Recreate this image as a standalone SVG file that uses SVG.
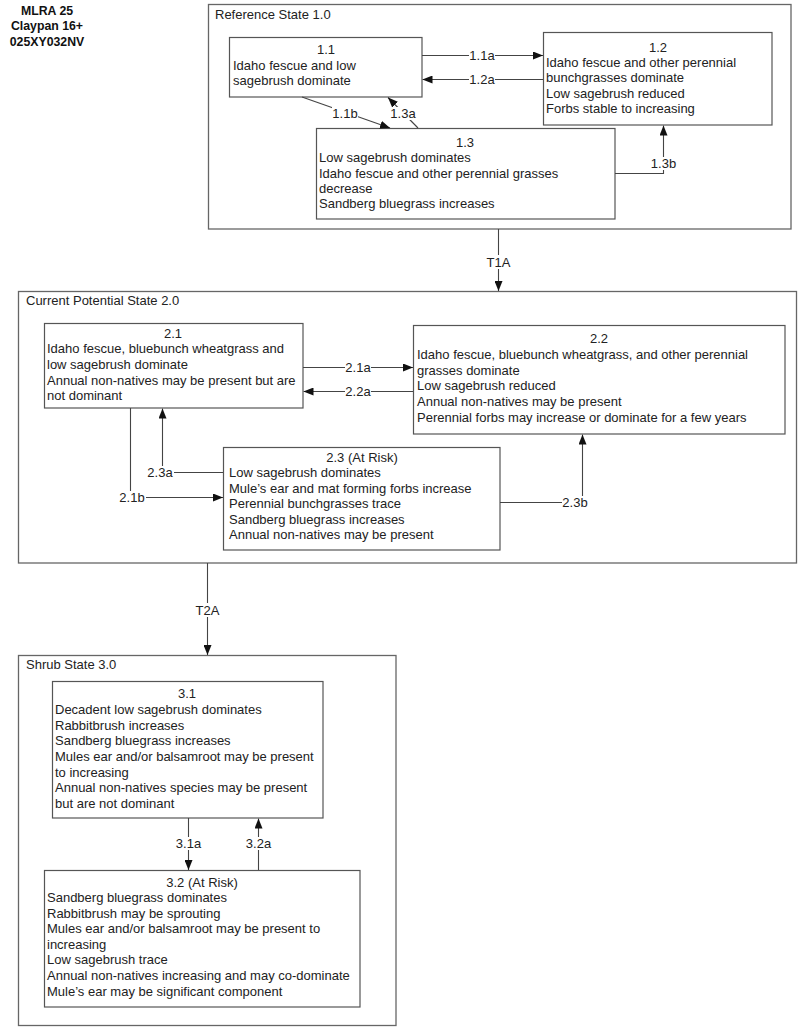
<svg xmlns="http://www.w3.org/2000/svg" width="800" height="1027" viewBox="0 0 800 1027">
<defs>
<marker id="ah" viewBox="0 0 10 8" refX="10" refY="4" markerWidth="10" markerHeight="8" markerUnits="userSpaceOnUse" orient="auto">
<path d="M0,0 L10,4 L0,8 Z" fill="#111"/>
</marker>
<style>
text{font-family:"Liberation Sans",Arial,sans-serif;font-size:13px;fill:#222}
.hd{font-weight:bold;font-size:12.3px;text-anchor:middle;fill:#111}
.st{fill:#fff;stroke:#666;stroke-width:1.3}
.nd{fill:#fff;stroke:#555;stroke-width:1.2}
.c{text-anchor:middle}
.cn{fill:none;stroke:#444;stroke-width:1.1}
.lb{text-anchor:middle;dominant-baseline:central}
.bg{fill:#fff}
</style>
</defs>
<rect width="800" height="1027" fill="#fff"/>
<g id="header">
<text class="hd" x="47" y="15">MLRA 25</text>
<text class="hd" x="47" y="30">Claypan 16+</text>
<text class="hd" x="47" y="46">025XY032NV</text>
</g>
<g id="state1">
<rect class="st" x="208.5" y="4.5" width="582.5" height="224.5"/>
<text x="215" y="19">Reference State 1.0</text>
</g>
<g id="state2">
<rect class="st" x="18.5" y="291.5" width="778" height="271.5"/>
<text x="26" y="305">Current Potential State 2.0</text>
</g>
<g id="state3">
<rect class="st" x="18.5" y="655.5" width="377.5" height="370"/>
<text x="26" y="669">Shrub State 3.0</text>
</g>
<g id="n11">
<rect class="nd" x="229.5" y="37.5" width="192.5" height="59.5"/>
<text class="c" x="326" y="54">1.1</text>
<text x="233" y="70">Idaho fescue and low</text>
<text x="233" y="85">sagebrush dominate</text>
</g>
<g id="n12">
<rect class="nd" x="543.5" y="32.5" width="228.5" height="92.5"/>
<text class="c" x="658" y="52">1.2</text>
<text x="546" y="67">Idaho fescue and other perennial</text>
<text x="546" y="82">bunchgrasses dominate</text>
<text x="546" y="97.5">Low sagebrush reduced</text>
<text x="546" y="113">Forbs stable to increasing</text>
</g>
<g id="n13">
<rect class="nd" x="316.5" y="128.5" width="298.5" height="90.5"/>
<text class="c" x="465" y="147">1.3</text>
<text x="319" y="162">Low sagebrush dominates</text>
<text x="319" y="177.5">Idaho fescue and other perennial grasses</text>
<text x="319" y="193">decrease</text>
<text x="319" y="208">Sandberg bluegrass increases</text>
</g>
<g id="n21">
<rect class="nd" x="44.5" y="323.5" width="258.5" height="84.5"/>
<text class="c" x="173" y="338">2.1</text>
<text x="47" y="353">Idaho fescue, bluebunch wheatgrass and</text>
<text x="47" y="369">low sagebrush dominate</text>
<text x="47" y="385">Annual non-natives may be present but are</text>
<text x="47" y="400">not dominant</text>
</g>
<g id="n22">
<rect class="nd" x="413.5" y="325.5" width="371.5" height="108.5"/>
<text class="c" x="599" y="343">2.2</text>
<text x="417" y="359">Idaho fescue, bluebunch wheatgrass, and other perennial</text>
<text x="417" y="374.5">grasses dominate</text>
<text x="417" y="390">Low sagebrush reduced</text>
<text x="417" y="406">Annual non-natives may be present</text>
<text x="417" y="421.5">Perennial forbs may increase or dominate for a few years</text>
</g>
<g id="n23">
<rect class="nd" x="223.5" y="447.5" width="276.5" height="102.5"/>
<text class="c" x="362" y="462">2.3 (At Risk)</text>
<text x="229" y="477">Low sagebrush dominates</text>
<text x="229" y="492.5">Mule’s ear and mat forming forbs increase</text>
<text x="229" y="508">Perennial bunchgrasses trace</text>
<text x="229" y="523.5">Sandberg bluegrass increases</text>
<text x="229" y="539">Annual non-natives may be present</text>
</g>
<g id="n31">
<rect class="nd" x="52.5" y="681.5" width="270.5" height="136.5"/>
<text class="c" x="187" y="698">3.1</text>
<text x="55" y="714">Decadent low sagebrush dominates</text>
<text x="55" y="729.5">Rabbitbrush increases</text>
<text x="55" y="745">Sandberg bluegrass increases</text>
<text x="55" y="761">Mules ear and/or balsamroot may be present</text>
<text x="55" y="776.5">to increasing</text>
<text x="55" y="792">Annual non-natives species may be present</text>
<text x="55" y="808">but are not dominant</text>
</g>
<g id="n32">
<rect class="nd" x="44.5" y="870.5" width="315.5" height="136.5"/>
<text class="c" x="202" y="887">3.2 (At Risk)</text>
<text x="47" y="902">Sandberg bluegrass dominates</text>
<text x="47" y="917.5">Rabbitbrush may be sprouting</text>
<text x="47" y="933">Mules ear and/or balsamroot may be present to</text>
<text x="47" y="948.5">increasing</text>
<text x="47" y="964">Low sagebrush trace</text>
<text x="47" y="980">Annual non-natives increasing and may co-dominate</text>
<text x="47" y="996">Mule’s ear may be significant component</text>
</g>
<g id="connectors">
<line class="cn" x1="422" y1="55.5" x2="543" y2="55.5" marker-end="url(#ah)"/>
<rect class="bg" x="469" y="49" width="26" height="13"/>
<text class="lb" x="482" y="55.5">1.1a</text>
<line class="cn" x1="543" y1="79.5" x2="422.5" y2="79.5" marker-end="url(#ah)"/>
<rect class="bg" x="469" y="73" width="26" height="13"/>
<text class="lb" x="482" y="79.5">1.2a</text>
<line class="cn" x1="302" y1="97" x2="390" y2="128" marker-end="url(#ah)"/>
<rect class="bg" x="332" y="107" width="26" height="13"/>
<text class="lb" x="345" y="113">1.1b</text>
<line class="cn" x1="418" y1="128" x2="388" y2="97.5" marker-end="url(#ah)"/>
<rect class="bg" x="390" y="107" width="26" height="13"/>
<text class="lb" x="403" y="113">1.3a</text>
<polyline class="cn" points="615,173.5 663.5,173.5 663.5,125.5" marker-end="url(#ah)"/>
<rect class="bg" x="650" y="157" width="27" height="13"/>
<text class="lb" x="663.5" y="163">1.3b</text>
<line class="cn" x1="498.5" y1="229" x2="498.5" y2="291" marker-end="url(#ah)"/>
<rect class="bg" x="484" y="255" width="29" height="14"/>
<text class="lb" x="498.5" y="262">T1A</text>
<line class="cn" x1="303" y1="367.5" x2="413" y2="367.5" marker-end="url(#ah)"/>
<rect class="bg" x="345" y="361" width="26" height="13"/>
<text class="lb" x="358" y="367.5">2.1a</text>
<line class="cn" x1="413" y1="391.5" x2="303.5" y2="391.5" marker-end="url(#ah)"/>
<rect class="bg" x="345" y="385" width="26" height="13"/>
<text class="lb" x="358" y="391.5">2.2a</text>
<polyline class="cn" points="223,472.5 162.5,472.5 162.5,408.5" marker-end="url(#ah)"/>
<rect class="bg" x="147" y="466" width="27" height="13"/>
<text class="lb" x="160" y="472.5">2.3a</text>
<polyline class="cn" points="130.5,408 130.5,497.5 223,497.5" marker-end="url(#ah)"/>
<rect class="bg" x="119" y="491" width="27" height="13"/>
<text class="lb" x="132" y="497.5">2.1b</text>
<polyline class="cn" points="500,502.5 582.5,502.5 582.5,434.5" marker-end="url(#ah)"/>
<rect class="bg" x="562" y="496" width="27" height="13"/>
<text class="lb" x="575" y="502.5">2.3b</text>
<line class="cn" x1="207.5" y1="563" x2="207.5" y2="655" marker-end="url(#ah)"/>
<rect class="bg" x="193" y="603" width="29" height="14"/>
<text class="lb" x="207.5" y="610">T2A</text>
<line class="cn" x1="188.5" y1="818" x2="188.5" y2="870" marker-end="url(#ah)"/>
<rect class="bg" x="175" y="837" width="27" height="13"/>
<text class="lb" x="188.5" y="843.5">3.1a</text>
<line class="cn" x1="258.5" y1="870" x2="258.5" y2="818.5" marker-end="url(#ah)"/>
<rect class="bg" x="245" y="837" width="27" height="13"/>
<text class="lb" x="258.5" y="843.5">3.2a</text>
</g>
</svg>
